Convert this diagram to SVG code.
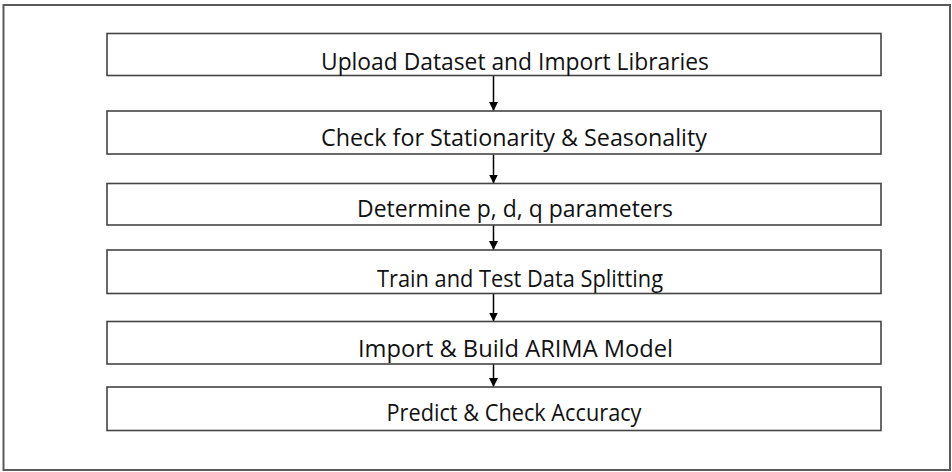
<svg xmlns="http://www.w3.org/2000/svg" width="952" height="472" viewBox="0 0 952 472">
  <defs>
    <style>
      .box { fill: #ffffff; stroke: #444444; stroke-width: 1.6; }
      .lbl { font-family: "Open Sans", "Liberation Sans", sans-serif; font-size: 23px; fill: #111111; text-anchor: middle; }
      .conn { stroke: #000000; stroke-width: 1.5; fill: none; }
    </style>
    <marker id="ah" markerUnits="userSpaceOnUse" markerWidth="9" markerHeight="9" viewBox="0 0 9 9" refX="9" refY="4.5" orient="auto">
      <path d="M0,0 L9,4.5 L0,9 Z" fill="#000000"/>
    </marker>
  </defs>
  <rect x="0" y="0" width="952" height="472" fill="#ffffff"/>
  <rect x="3.5" y="5" width="946.5" height="465" fill="none" stroke="#5a5a5a" stroke-width="2"/>

  <g id="connectors">
    <line class="conn" x1="493.5" y1="76" x2="493.5" y2="111" marker-end="url(#ah)"/>
    <line class="conn" x1="493.5" y1="154.5" x2="493.5" y2="183.5" marker-end="url(#ah)"/>
    <line class="conn" x1="493.5" y1="225" x2="493.5" y2="250" marker-end="url(#ah)"/>
    <line class="conn" x1="493.5" y1="293.5" x2="493.5" y2="321.5" marker-end="url(#ah)"/>
    <line class="conn" x1="493.5" y1="364" x2="493.5" y2="387" marker-end="url(#ah)"/>
  </g>

  <g id="node1">
    <rect class="box" x="107" y="33.5" width="774" height="42"/>
    <text class="lbl" x="515" y="69.5" textLength="388" lengthAdjust="spacingAndGlyphs">Upload Dataset and Import Libraries</text>
  </g>
  <g id="node2">
    <rect class="box" x="107" y="111" width="774" height="43"/>
    <text class="lbl" x="514" y="146" textLength="386" lengthAdjust="spacingAndGlyphs">Check for Stationarity &amp; Seasonality</text>
  </g>
  <g id="node3">
    <rect class="box" x="107" y="183.5" width="774" height="41.5"/>
    <text class="lbl" x="515" y="216.5" textLength="316" lengthAdjust="spacingAndGlyphs">Determine p, d, q parameters</text>
  </g>
  <g id="node4">
    <rect class="box" x="107" y="250" width="774" height="43.5"/>
    <text class="lbl" x="520" y="287" textLength="286" lengthAdjust="spacingAndGlyphs">Train and Test Data Splitting</text>
  </g>
  <g id="node5">
    <rect class="box" x="107" y="321.5" width="774" height="42.5"/>
    <text class="lbl" x="515.5" y="356.5" textLength="315" lengthAdjust="spacingAndGlyphs">Import &amp; Build ARIMA Model</text>
  </g>
  <g id="node6">
    <rect class="box" x="107" y="387" width="774" height="43.5"/>
    <text class="lbl" x="514" y="420.5" textLength="255" lengthAdjust="spacingAndGlyphs">Predict &amp; Check Accuracy</text>
  </g>
</svg>
